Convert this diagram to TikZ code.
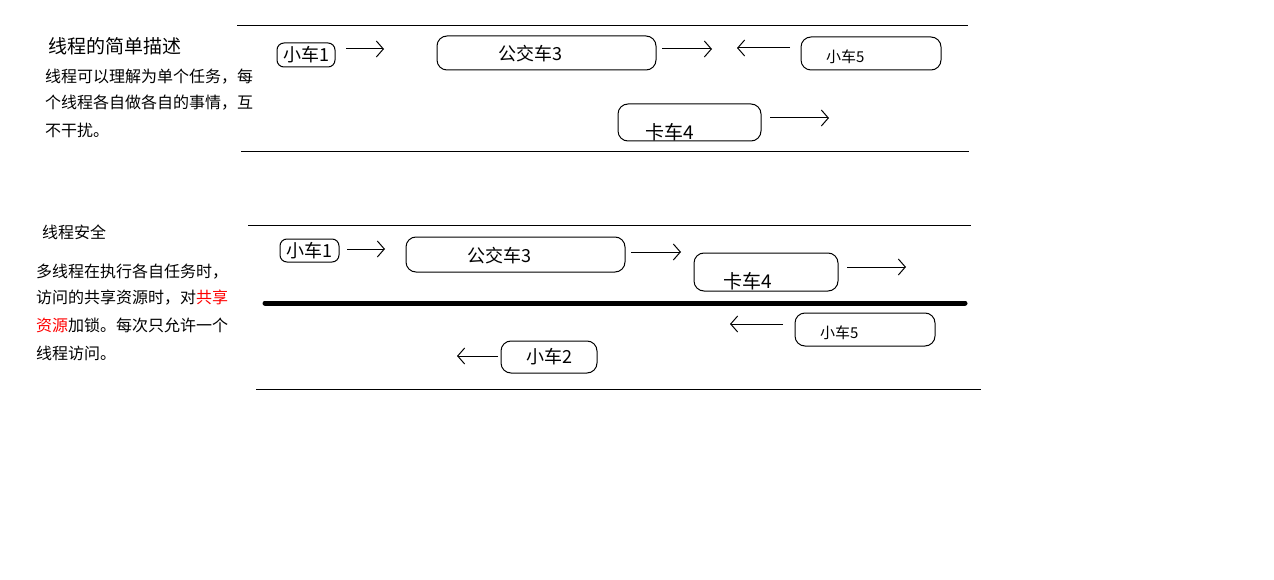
\documentclass[tikz,border=0pt]{standalone}
\usepackage{fontspec}
\setmainfont{Noto Sans CJK SC}
\usetikzlibrary{arrows.meta}
\tikzset{
  car/.style={draw, rounded corners=10pt, inner sep=0pt, line width=1pt},
  lbl/.style={anchor=west, inner sep=0pt},
  road/.style={line width=1pt},
  arr/.style={line width=1pt, -{Straight Barb[length=7pt,width=16pt,line width=1pt]}},
  para/.style={anchor=west, inner sep=0pt, font=\fontsize{16}{18}\selectfont}
}
\begin{document}
\begin{tikzpicture}[x=1pt,y=-1pt]
\useasboundingbox (0,0) rectangle (1274,580);
\fill[white] (0,0) rectangle (1274,580);
% ---------- top section ----------
\coordinate (r1a) at (237,26); \coordinate (r1b) at (968,26);
\coordinate (r2a) at (241,152); \coordinate (r2b) at (969,152);
\draw[road] (r1a) -- (r1b);
\draw[road] (r2a) -- (r2b);
\node[lbl, font=\fontsize{19}{21}\selectfont] (title1) at (48,46) {线程的简单描述};
\node[para] (p1a) at (45,77) {线程可以理解为单个任务，每};
\node[para] (p1b) at (45,103) {个线程各自做各自的事情，互};
\node[para] (p1c) at (45,130) {不干扰。};

\node[car, rounded corners=7pt, minimum width=58pt, minimum height=24pt, font=\fontsize{18}{20}\selectfont] (t1) at (306,55) {小车1};
\node[car, minimum width=219pt, minimum height=34pt] (t3) at (546.5,53) {};
\node[lbl, font=\fontsize{18}{20}\selectfont] (t3l) at (498,54) {公交车3};
\node[car, minimum width=140pt, minimum height=33pt] (t5) at (871,53.5) {};
\node[lbl, font=\fontsize{15}{17}\selectfont] (t5l) at (826,57) {小车5};
\node[car, minimum width=143pt, minimum height=37pt] (t4) at (689.5,122.5) {};
\node[lbl, font=\fontsize{19}{21}\selectfont] (t4l) at (645,132) {卡车4};

\coordinate (a1s) at (346,49); \coordinate (a1e) at (384,49);
\coordinate (a2s) at (662,49); \coordinate (a2e) at (712,49);
\coordinate (a3s) at (790,48); \coordinate (a3e) at (737,48);
\coordinate (a4s) at (770,118); \coordinate (a4e) at (829,118);
\draw[arr] (a1s) -- (a1e);
\draw[arr] (a2s) -- (a2e);
\draw[arr] (a3s) -- (a3e);
\draw[arr] (a4s) -- (a4e);

% ---------- bottom section ----------
\coordinate (s1a) at (248,226); \coordinate (s1b) at (971,226);
\coordinate (s2a) at (265,303); \coordinate (s2b) at (965,303);
\coordinate (s3a) at (256,389); \coordinate (s3b) at (981,389);
\draw[road] (s1a) -- (s1b);
\draw[line width=5pt, line cap=round] (s2a) -- (s2b);
\draw[road] (s3a) -- (s3b);

\node[lbl, font=\fontsize{16}{18}\selectfont] (title2) at (42,232) {线程安全};
\node[para] (p2a) at (36,272) {多线程在执行各自任务时，};
\node[para] (p2b) at (36,298) {访问的共享资源时，对\textcolor{red}{共享}};
\node[para] (p2c) at (36,325) {\textcolor{red}{资源}加锁。每次只允许一个};
\node[para] (p2d) at (36,353) {线程访问。};

\node[car, rounded corners=7pt, minimum width=59pt, minimum height=23pt, font=\fontsize{18}{20}\selectfont] (b1) at (309.5,250.5) {小车1};
\node[car, minimum width=219pt, minimum height=35pt] (b3) at (515.5,254.5) {};
\node[lbl, font=\fontsize{18}{20}\selectfont] (b3l) at (467,256) {公交车3};
\node[car, minimum width=144pt, minimum height=38pt] (b4) at (766,272) {};
\node[lbl, font=\fontsize{19}{21}\selectfont] (b4l) at (723,281) {卡车4};
\node[car, minimum width=140pt, minimum height=33pt] (b5) at (865,329.5) {};
\node[lbl, font=\fontsize{15}{17}\selectfont] (b5l) at (820,333) {小车5};
\node[car, minimum width=96pt, minimum height=32pt] (b2) at (549,357) {};
\node[lbl, font=\fontsize{18}{20}\selectfont] (b2l) at (526,357) {小车2};

\coordinate (c1s) at (347,249); \coordinate (c1e) at (385,249);
\coordinate (c2s) at (631,252); \coordinate (c2e) at (681,252);
\coordinate (c3s) at (847,267); \coordinate (c3e) at (906,267);
\coordinate (c4s) at (783,324); \coordinate (c4e) at (730,324);
\coordinate (c5s) at (498,356); \coordinate (c5e) at (457,356);
\draw[arr] (c1s) -- (c1e);
\draw[arr] (c2s) -- (c2e);
\draw[arr] (c3s) -- (c3e);
\draw[arr] (c4s) -- (c4e);
\draw[arr] (c5s) -- (c5e);
\end{tikzpicture}
\end{document}
